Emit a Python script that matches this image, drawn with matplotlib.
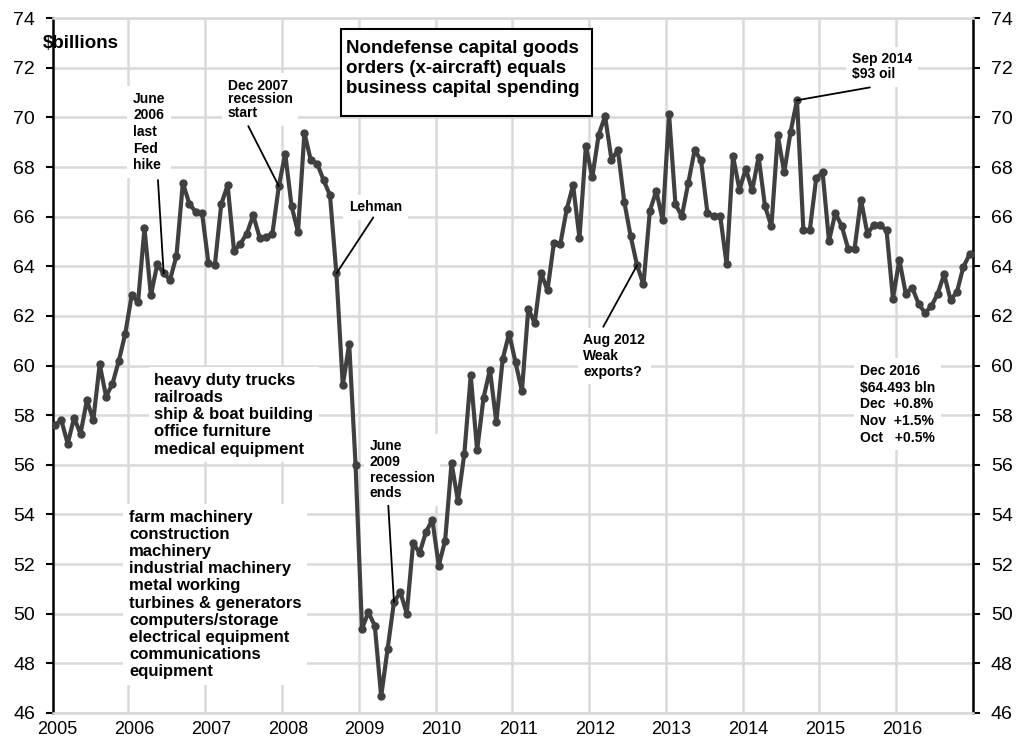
import matplotlib.pyplot as plt
import matplotlib.patches as mpatches
import numpy as np

plt.rcParams['font.family'] = ['Liberation Sans', 'DejaVu Sans']

# Monthly nondefense capital goods orders ex-aircraft, $ billions
years = [2005, 2006, 2007, 2008, 2009, 2010, 2011, 2012, 2013, 2014, 2015, 2016]
orders_2005 = [57.6, 57.8, 56.85, 57.9, 57.25, 58.6, 57.8, 60.05, 58.75, 59.27, 60.2, 61.29]
orders_2006 = [62.83, 62.56, 65.54, 62.83, 64.08, 63.71, 63.46, 64.42, 67.36, 66.53, 66.19, 66.15]
orders_2007 = [64.13, 64.04, 66.5, 67.27, 64.62, 64.91, 65.32, 66.06, 65.16, 65.18, 65.32, 67.23]
orders_2008 = [68.54, 66.42, 65.38, 69.38, 68.27, 68.14, 67.47, 66.86, 63.71, 59.2, 60.88, 55.98]
orders_2009 = [49.39, 50.06, 49.52, 46.67, 48.58, 50.47, 50.87, 50.0, 52.86, 52.44, 53.29, 53.79]
orders_2010 = [51.94, 52.95, 56.07, 54.55, 56.45, 59.6, 56.58, 58.7, 59.83, 57.72, 60.27, 61.29]
orders_2011 = [60.14, 58.97, 62.29, 61.71, 63.73, 63.03, 64.94, 64.89, 66.29, 67.27, 65.14, 68.85]
orders_2012 = [67.58, 69.3, 70.05, 68.3, 68.68, 66.6, 65.21, 64.04, 63.27, 66.23, 67.04, 65.85]
orders_2013 = [70.13, 66.5, 66.02, 67.34, 68.68, 68.27, 66.15, 66.02, 66.02, 64.08, 68.44, 67.09]
orders_2014 = [67.93, 67.06, 68.41, 66.42, 65.61, 69.28, 67.78, 69.42, 70.69, 65.45, 65.45, 67.54]
orders_2015 = [67.8, 65.02, 66.15, 65.61, 64.71, 64.71, 66.69, 65.32, 65.65, 65.65, 65.45, 62.7]
orders_2016 = [64.27, 62.9, 63.14, 62.5, 62.12, 62.39, 62.9, 63.68, 62.65, 62.96, 63.97, 64.493]

orders = (orders_2005 + orders_2006 + orders_2007 + orders_2008 + orders_2009 + orders_2010
          + orders_2011 + orders_2012 + orders_2013 + orders_2014 + orders_2015 + orders_2016)
months = np.arange(len(orders))

fig = plt.figure(figsize=(10.29, 7.40), dpi=100)
ax = fig.add_axes([0.0515, 0.0365, 0.894, 0.939])

ax.plot(months, orders, color='#404040', lw=3.0, marker='o', ms=5, zorder=3)

ax.set_xlim(-0.3, len(orders) - 1)
ax.set_ylim(46, 74)

# year gridlines sit between Dec and Jan
ax.set_xticks(np.arange(11.5, len(orders), 12), minor=True)
ax.set_xticks(np.arange(0, len(orders), 12) + 0.4)
ax.set_xticklabels([str(y) for y in years], fontsize=13)
ax.tick_params(axis='x', which='both', length=0, pad=6)
ax.grid(axis='x', which='minor', color='#d9d9d9', lw=1.8)

ax.set_yticks(np.arange(46, 75, 2))
ax.tick_params(axis='y', which='major', direction='out', length=5, width=1.5,
               labelsize=14, pad=8, right=True, labelright=True)
ax.grid(axis='y', which='major', color='#d9d9d9', lw=1.8)
ax.set_axisbelow(True)

for s in ['left', 'right']:
    ax.spines[s].set_linewidth(1.8)
    ax.spines[s].set_color('black')
for s in ['top', 'bottom']:
    ax.spines[s].set_color('#d9d9d9')
    ax.spines[s].set_linewidth(1.8)

# units label
fig.text(0.042, 0.941, '$billions', fontsize=13.5, fontweight='bold', va='center', ha='left')

# title box
ax.add_patch(mpatches.Rectangle((0.3127, 0.859), 0.2728, 0.1247, transform=ax.transAxes,
                                facecolor='white', edgecolor='black', lw=1.5, zorder=4))
ax.text(0.3185, 0.9275, 'Nondefense capital goods\norders (x-aircraft) equals\nbusiness capital spending',
        transform=ax.transAxes, fontsize=13.5, fontweight='bold', ha='left', va='center',
        linespacing=1.2, zorder=5)

wbox = dict(facecolor='white', edgecolor='none', pad=4)

def note(txt, fx, fy, size=10, ls=1.2):
    ax.text(fx, fy, txt, transform=ax.transAxes, fontsize=size, fontweight='bold',
            ha='left', va='center', linespacing=ls, bbox=wbox, zorder=4)

def pointer(m, fx, fy):
    ax.annotate('', xy=(months[m], orders[m]), xycoords='data',
                xytext=(fx, fy), textcoords='axes fraction',
                arrowprops=dict(arrowstyle='-', color='black', lw=1.3,
                                shrinkA=0, shrinkB=0), zorder=5)

note('June\n2006\nlast\nFed\nhike', 0.087, 0.836, ls=1.24)
pointer(17, 0.1141, 0.767)

note('Dec 2007\nrecession\nstart', 0.190, 0.883, ls=0.97)
pointer(35, 0.2123, 0.8446)

note('Lehman', 0.3217, 0.7276)
pointer(44, 0.3482, 0.7132)

note('June\n2009\nrecession\nends', 0.3446, 0.3499, ls=1.15)
pointer(53, 0.3645, 0.2983)

note('Aug 2012\nWeak\nexports?', 0.5764, 0.5137, ls=1.15)
pointer(91, 0.5982, 0.5558)

note('Sep 2014\n$93 oil', 0.8685, 0.9302, ls=1.1)
pointer(116, 0.8880, 0.9003)

note('Dec 2016\n$64.493 bln\nDec  +0.8%\nNov  +1.5%\nOct   +0.5%', 0.8772, 0.4442, ls=1.25)

note('heavy duty trucks\nrailroads\nship & boat building\noffice furniture\nmedical equipment',
     0.1098, 0.4292, size=12, ls=1.18)
note('farm machinery\nconstruction\nmachinery\nindustrial machinery\nmetal working\n'
     'turbines & generators\ncomputers/storage\nelectrical equipment\ncommunications\nequipment',
     0.0826, 0.1705, size=12, ls=1.18)

plt.savefig('out.png', dpi=100)
